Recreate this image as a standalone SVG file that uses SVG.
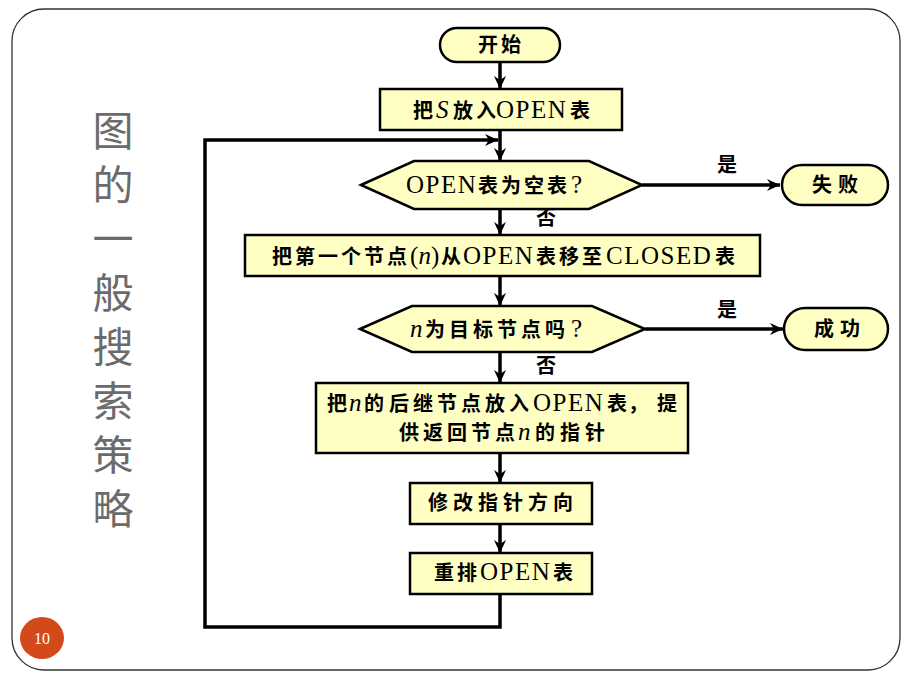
<svg xmlns="http://www.w3.org/2000/svg" width="915" height="686" viewBox="0 0 915 686">
<style>
.node{fill:#FFFFC4;stroke:#000;stroke-width:2.5}
.conn{fill:none;stroke:#000;stroke-width:3.5}
.t{font-family:"Liberation Serif","Noto Sans CJK SC",serif;font-size:20px;font-weight:bold;fill:#000}
.c{text-anchor:middle}
.lat{font-weight:normal;font-size:25px;letter-spacing:1.5px}
.it{font-style:italic;font-weight:normal;font-size:25px}
.title{font-family:"Noto Sans CJK SC","Noto Sans",sans-serif;font-size:41px;fill:#6b6b6b;writing-mode:vertical-rl;letter-spacing:13px}
</style>
<defs>
<marker id="arr" markerUnits="userSpaceOnUse" markerWidth="14" markerHeight="12" refX="13" refY="6" orient="auto">
<path d="M0,0 L13,6 L0,12 L4,6 z" fill="#000"/>
</marker>
</defs>
<rect x="12" y="9" width="888" height="661" rx="32" ry="32" fill="#fff" stroke="#333" stroke-width="1.3"/>
<g id="title">
<text class="title" x="113" y="110">图的一般搜索策略</text>
</g>
<g id="pagenum">
<ellipse cx="42" cy="638" rx="22" ry="21" fill="#D4491A"/>
<text x="42" y="644" font-family="Liberation Serif,serif" font-size="16" fill="#fff" text-anchor="middle">10</text>
</g>
<g id="connectors">
<line class="conn" x1="500" y1="62" x2="500" y2="89" marker-end="url(#arr)"/>
<line class="conn" x1="500" y1="130" x2="500" y2="161" marker-end="url(#arr)"/>
<line class="conn" x1="500" y1="209" x2="500" y2="235" marker-end="url(#arr)"/>
<line class="conn" x1="500" y1="276" x2="500" y2="306" marker-end="url(#arr)"/>
<line class="conn" x1="500" y1="352" x2="500" y2="383" marker-end="url(#arr)"/>
<line class="conn" x1="500" y1="453" x2="500" y2="483" marker-end="url(#arr)"/>
<line class="conn" x1="500" y1="524" x2="500" y2="553" marker-end="url(#arr)"/>
<line class="conn" x1="642" y1="185" x2="780" y2="185" marker-end="url(#arr)"/>
<line class="conn" x1="645" y1="329" x2="783" y2="329" marker-end="url(#arr)"/>
<polyline class="conn" points="500,594 500,627 205,627 205,140 498,140" marker-end="url(#arr)"/>
<text class="t c" x="727" y="172">是</text>
<text class="t c" x="546" y="225">否</text>
<text class="t c" x="727" y="317">是</text>
<text class="t c" x="546" y="373">否</text>
</g>
<g id="start">
<rect class="node" x="440" y="28" width="120" height="34" rx="17"/>
<text class="t" x="478 501" y="52">开始</text>
</g>
<g id="putS">
<rect class="node" x="380" y="89" width="242" height="41"/>
<text class="t" y="117.5"><tspan x="413">把</tspan><tspan class="it" x="436">S</tspan><tspan x="453 476">放入</tspan><tspan class="lat" x="496">OPEN</tspan><tspan x="570">表</tspan></text>
</g>
<g id="openEmpty">
<polygon class="node" points="361,185 414,161 589,161 642,185 589,209 414,209"/>
<text class="t" y="192.5"><tspan class="lat" x="406">OPEN</tspan><tspan x="478 501 524 547">表为空表</tspan><tspan class="lat" x="571">?</tspan></text>
</g>
<g id="fail">
<rect class="node" x="782" y="165" width="106" height="40" rx="20"/>
<text class="t" x="812 838" y="192">失败</text>
</g>
<g id="moveFirst">
<rect class="node" x="245" y="235" width="515" height="41"/>
<text class="t" y="263.5"><tspan x="272 295 318 341 364 387">把第一个节点</tspan><tspan class="lat" x="410">(</tspan><tspan class="it" x="418.5">n</tspan><tspan class="lat" x="431">)</tspan><tspan x="441">从</tspan><tspan class="lat" x="463">OPEN</tspan><tspan x="536 559 582">表移至</tspan><tspan class="lat" x="606">CLOSED</tspan><tspan x="715">表</tspan></text>
</g>
<g id="isGoal">
<polygon class="node" points="360,329 412,306 592,306 645,329 592,352 412,352"/>
<text class="t" y="336.5"><tspan class="it" x="410">n</tspan><tspan x="425 449 473 497 521 545">为目标节点吗</tspan><tspan class="lat" x="571">?</tspan></text>
</g>
<g id="success">
<rect class="node" x="784" y="308" width="104" height="42" rx="21"/>
<text class="t" x="814 840" y="336">成功</text>
</g>
<g id="expand">
<rect class="node" x="316" y="383" width="372" height="70"/>
<text class="t" y="411"><tspan x="327">把</tspan><tspan class="it" x="349">n</tspan><tspan x="364 389 413 437 461 485 509">的后继节点放入</tspan><tspan class="lat" x="533">OPEN</tspan><tspan x="607 628 657">表，提</tspan></text>
<text class="t" y="440"><tspan x="399 423 447 471 495">供返回节点</tspan><tspan class="it" x="518">n</tspan><tspan x="535 560 585">的指针</tspan></text>
</g>
<g id="modify">
<rect class="node" x="410" y="483" width="182" height="41"/>
<text class="t" x="428 453 478 503 528 553" y="510">修改指针方向</text>
</g>
<g id="reorder">
<rect class="node" x="410" y="553" width="182" height="41"/>
<text class="t" y="580"><tspan x="434 457">重排</tspan><tspan class="lat" x="480">OPEN</tspan><tspan x="553">表</tspan></text>
</g>
</svg>
